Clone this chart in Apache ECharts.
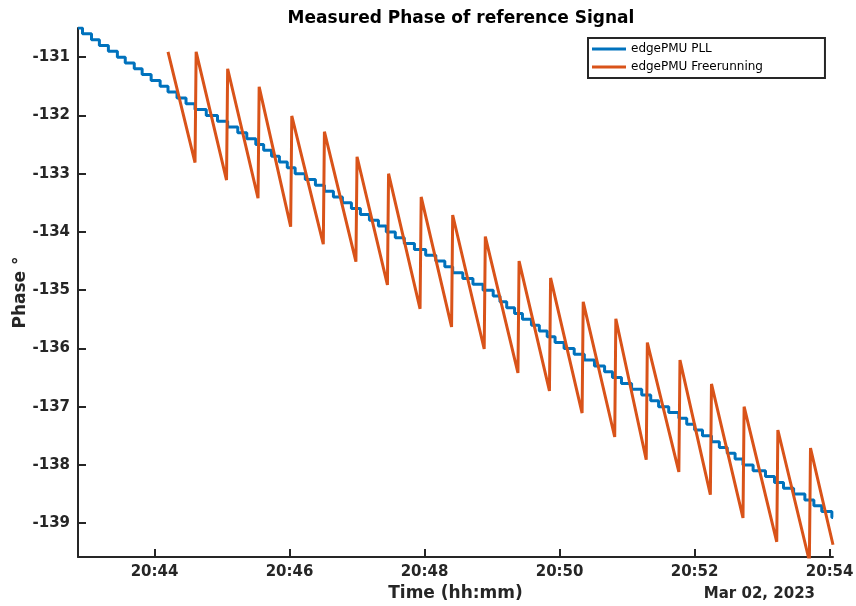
<!DOCTYPE html>
<html>
<head>
<meta charset="utf-8">
<script src="https://cdn.jsdelivr.net/npm/echarts@6/dist/echarts.min.js"></script>
<style>
  html, body { margin: 0; padding: 0; background: #ffffff; }
  #chart { width: 856px; height: 606px; }
</style>
</head>
<body>
<div id="chart"></div>
<script>
// Time values are seconds relative to 20:44:00 on Mar 02, 2023
const xTickSeconds = [0, 120, 240, 360, 480, 600];
const yTickValues = [-139, -138, -137, -136, -135, -134, -133, -132, -131];

// edgePMU PLL: staircase, each entry = start time of a level, level value
const pllTimes = [-68,-64,-56,-49,-41,-33,-26,-18,-11,-3,5,12,20,28,36,46,56,65,74,82,90,97,104,111,118,125,134,143,151,159,167,175,183,191,199,206,214,222,231,241,250,258,265,274,283,292,301,307,313,320,327,335,342,349,356,364,373,382,391,400,407,415,424,433,441,448,457,466,473,480,487,495,502,509,516,523,532,543,551,559,568,578,586,593,602,603];
const pllValues = [-130.5,-130.6,-130.7,-130.8,-130.9,-131.0,-131.1,-131.2,-131.3,-131.4,-131.5,-131.6,-131.7,-131.8,-131.9,-132.0,-132.1,-132.2,-132.3,-132.4,-132.5,-132.6,-132.7,-132.8,-132.9,-133.0,-133.1,-133.2,-133.3,-133.4,-133.5,-133.6,-133.7,-133.8,-133.9,-134.0,-134.1,-134.2,-134.3,-134.4,-134.5,-134.6,-134.7,-134.8,-134.9,-135.0,-135.1,-135.2,-135.3,-135.4,-135.5,-135.6,-135.7,-135.8,-135.9,-136.0,-136.1,-136.2,-136.3,-136.4,-136.5,-136.6,-136.7,-136.8,-136.9,-137.0,-137.1,-137.2,-137.3,-137.4,-137.5,-137.6,-137.7,-137.8,-137.9,-138.0,-138.1,-138.2,-138.3,-138.4,-138.5,-138.6,-138.7,-138.8,-138.9,-138.9];

// edgePMU Freerunning: sawtooth (troughs and peaks)
const freeTimes = [12, 36,37, 64,65, 92,93, 121,122, 150,151, 179,180, 207,208, 236,237, 264,265, 293,294, 323,324, 351,352, 380,381, 409,410, 437,438, 466,467, 494,495, 523,524, 553,554, 582,583, 603];
const freeValues = [-130.91, -132.81,-130.91, -133.11,-131.20, -133.42,-131.51, -133.91,-132.01, -134.21,-132.28, -134.51,-132.71, -134.91,-133.00, -135.32,-133.40, -135.63,-133.71, -136.01,-134.08, -136.42,-134.50, -136.73,-134.79, -137.11,-135.20, -137.52,-135.49, -137.91,-135.90, -138.12,-136.20, -138.51,-136.61, -138.91,-137.00, -139.32,-137.40, -139.65,-137.71, -139.37];

const seriesNames = ['edgePMU PLL', 'edgePMU Freerunning'];

const pllData = pllTimes.map((t, i) => [t, pllValues[i]]);
const freeData = freeTimes.map((t, i) => [t, freeValues[i]]);

const FONT = 'DejaVu Sans';
const AX = '#262626';

const chart = echarts.init(document.getElementById('chart'), null, { renderer: 'canvas' });
chart.setOption({
  animation: false,
  backgroundColor: '#ffffff',
  title: {
    text: 'Measured Phase of reference Signal',
    left: 456, top: 5, textAlign: 'center',
    textStyle: { fontFamily: FONT, fontSize: 17, fontWeight: 'bold', color: '#000' }
  },
  legend: {
    data: seriesNames,
    orient: 'vertical',
    left: 588, top: 38,
    icon: 'rect', itemWidth: 34, itemHeight: 3, itemGap: 4,
    padding: [4, 62, 4, 4],
    borderColor: AX, borderWidth: 2,
    backgroundColor: '#fff',
    textStyle: { fontFamily: FONT, fontSize: 12, color: '#000', lineHeight: 14 }
  },
  grid: { left: 78, right: 23, top: 28, bottom: 49, outerBoundsMode: 'none', containLabel: false },
  xAxis: {
    type: 'value', min: -68, max: 603,
    name: 'Time (hh:mm)', nameLocation: 'middle', nameGap: 28, nameMoveOverlap: false,
    nameTextStyle: { fontFamily: FONT, fontSize: 17, fontWeight: 'bold', color: AX },
    axisLine: { show: true, onZero: false, lineStyle: { color: AX, width: 2 } },
    axisTick: { show: true, inside: true, length: 8, lineStyle: { color: AX, width: 2 }, customValues: xTickSeconds },
    axisLabel: {
      customValues: xTickSeconds, margin: 8, hideOverlap: false,
      fontFamily: FONT, fontSize: 15, fontWeight: 'bold', color: AX,
      formatter: v => '20:' + String(44 + Math.round(v / 60)).padStart(2, '0')
    },
    splitLine: { show: false }
  },
  yAxis: {
    type: 'value', min: -139.58, max: -130.5,
    name: 'Phase °', nameLocation: 'middle', nameGap: 49, nameRotate: 90, nameMoveOverlap: false,
    nameTextStyle: { fontFamily: FONT, fontSize: 17, fontWeight: 'bold', color: AX },
    axisLine: { show: true, onZero: false, lineStyle: { color: AX, width: 2 } },
    axisTick: { show: true, inside: true, length: 8, lineStyle: { color: AX, width: 2 }, customValues: yTickValues },
    axisLabel: { customValues: yTickValues, margin: 8, fontFamily: FONT, fontSize: 15, fontWeight: 'bold', color: AX },
    splitLine: { show: false }
  },
  graphic: [{
    type: 'text', x: 815, y: 594,
    style: { text: 'Mar 02, 2023', align: 'right', verticalAlign: 'middle',
             font: 'bold 15px "DejaVu Sans"', fill: AX }
  }],
  series: [
    { name: seriesNames[0], type: 'line', step: 'end', data: pllData, showSymbol: false,
      color: '#0072BD', lineStyle: { color: '#0072BD', width: 3 }, clip: true },
    { name: seriesNames[1], type: 'line', data: freeData, showSymbol: false,
      color: '#D95319', lineStyle: { color: '#D95319', width: 3 }, clip: true }
  ]
});
</script>
</body>
</html>
